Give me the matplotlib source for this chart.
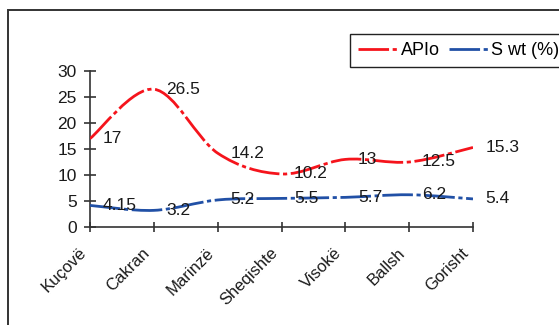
import numpy as np
import matplotlib
matplotlib.use("Agg")
import matplotlib.pyplot as plt
from matplotlib.path import Path
from matplotlib.patches import PathPatch, Rectangle
from matplotlib.lines import Line2D

plt.rcParams['font.family'] = ['Liberation Sans', 'DejaVu Sans']

fields = ["Kuçovë", "Cakran", "Marinzë", "Sheqishte", "Visokë", "Ballsh", "Gorisht"]
api_gravity = [17, 26.5, 14.2, 10.2, 13, 12.5, 15.3]
sulfur_wt = [4.15, 3.2, 5.2, 5.5, 5.7, 6.2, 5.4]

RED = "#f5141c"
BLUE = "#2150a6"
TEXT = "#1a1a1a"


def smooth_path(xs, ys):
    """Cardinal (Catmull-Rom) Bezier path through the points, like a smoothed line chart."""
    pts = np.column_stack([xs, ys]).astype(float)
    n = len(pts)
    ext = np.vstack([pts[0], pts, pts[-1]])
    verts = [pts[0]]
    codes = [Path.MOVETO]
    for i in range(n - 1):
        p0, p1, p2, p3 = ext[i], ext[i + 1], ext[i + 2], ext[i + 3]
        c1 = p1 + (p2 - p0) / 6.0
        c2 = p2 - (p3 - p1) / 6.0
        verts += [c1, c2, p2]
        codes += [Path.CURVE4] * 3
    return Path(verts, codes)


fig = plt.figure(figsize=(5.59, 3.25), dpi=100)
ax = fig.add_axes([90 / 559, 1 - 227 / 325, (473 - 90) / 559, (227 - 71) / 325])

# outer chart-area border
fig.patches.append(Rectangle((8 / 559, -0.1), 1.2, 1 - 10 / 325 + 0.1,
                             transform=fig.transFigure, fill=False,
                             edgecolor="#333333", linewidth=1.4, zorder=0))

x = np.arange(len(fields))
dash = (0, (11, 1.3, 1.5, 1.3))
for vals, color in ((api_gravity, RED), (sulfur_wt, BLUE)):
    patch = PathPatch(smooth_path(x, vals), fill=False, edgecolor=color,
                      linewidth=2.0, linestyle=dash, capstyle="butt", zorder=3)
    ax.add_patch(patch)
    for xi, v in zip(x, vals):
        ax.annotate(f"{v:g}", (xi, v), xytext=(9, 0), textcoords="offset points",
                    ha="left", va="center", fontsize=12.5, color=TEXT, zorder=4,
                    annotation_clip=False)

ax.set_xlim(0, 6)
ax.set_ylim(0, 30)
ax.set_yticks(range(0, 31, 5))
ax.set_xticks(x)
ax.set_xticklabels([])
# slanted category names, set a little left of and below each tick
for xi, name in zip(x, fields):
    ax.annotate(name, (xi, 0), xycoords=ax.get_xaxis_transform(),
                xytext=(-8.5, -13), textcoords="offset points",
                rotation=45, rotation_mode="anchor", ha="right", va="top",
                fontsize=12, color=TEXT, annotation_clip=False)
ax.tick_params(axis="y", direction="inout", length=9, width=1.2, labelsize=12.5,
               colors="#333333", labelcolor=TEXT, pad=5)
ax.tick_params(axis="x", direction="inout", length=7, width=1.2, colors="#333333")
for side in ("top", "right"):
    ax.spines[side].set_visible(False)
for side in ("left", "bottom"):
    ax.spines[side].set_color("#333333")
    ax.spines[side].set_linewidth(1.2)
ax.patch.set_visible(False)

handles = [Line2D([], [], color=RED, lw=2.0, linestyle=dash),
           Line2D([], [], color=BLUE, lw=2.0, linestyle=dash)]
leg = fig.legend(handles, ["APIo", "S wt (%)"], loc="upper left",
                 bbox_to_anchor=(350 / 559, 1 - 34 / 325), ncol=2, fontsize=13,
                 frameon=True, fancybox=False, edgecolor="#222222", framealpha=1,
                 handlelength=2.2, handletextpad=0.15, columnspacing=0.5,
                 borderpad=0.45, borderaxespad=0)
leg.get_frame().set_linewidth(1.0)

fig.savefig("out.png", dpi=100)
